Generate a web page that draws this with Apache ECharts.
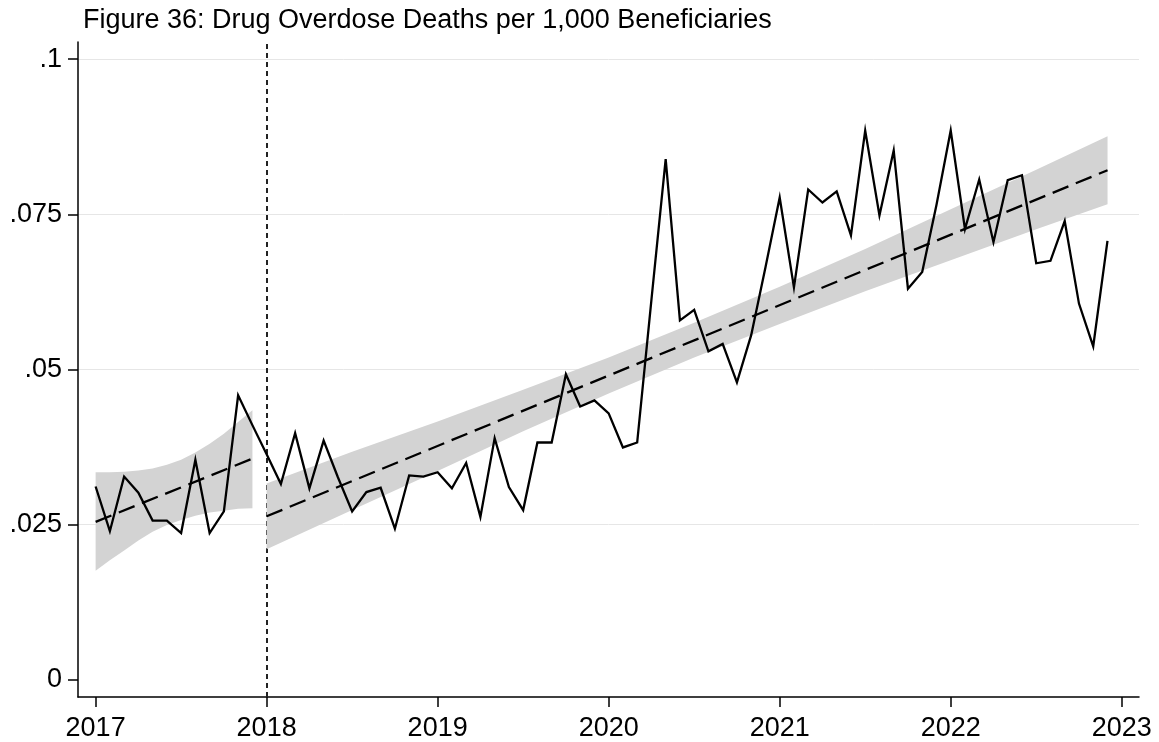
<!DOCTYPE html>
<html><head><meta charset="utf-8">
<script src="https://cdn.jsdelivr.net/npm/echarts@6/dist/echarts.min.js"></script>
<style>html,body{margin:0;padding:0;background:#fff}#c{width:1159px;height:742px}</style>
</head><body><div id="c"></div>
<script>
const chartTitle = 'Figure 36: Drug Overdose Deaths per 1,000 Beneficiaries';
const years = [2017, 2018, 2019, 2020, 2021, 2022];
const monthsPerYear = 12;
// monthly deaths per 1,000 beneficiaries, Jan 2017 .. Dec 2022
const deathsPer1000 = [
  0.0311,0.0239,0.0327,0.0301,0.0256,0.0256,0.0236,0.0354,0.0236,0.0271,0.0458,0.0410,
  0.0363,0.0315,0.0397,0.0308,0.0385,0.0326,0.0271,0.0302,0.0309,0.0243,0.0329,0.0327,
  0.0334,0.0308,0.0349,0.0262,0.0389,0.0310,0.0273,0.0382,0.0382,0.0492,0.0440,0.0450,
  0.0429,0.0374,0.0382,0.0612,0.0839,0.0579,0.0596,0.0529,0.0541,0.0479,0.0555,0.0664,
  0.0777,0.0632,0.0790,0.0769,0.0787,0.0716,0.0885,0.0748,0.0853,0.0630,0.0657,0.0765,
  0.0885,0.0726,0.0806,0.0705,0.0805,0.0813,0.0671,0.0675,0.0739,0.0606,0.0537,0.0707
];
const xTickValues = [2017, 2018, 2019, 2020, 2021, 2022, 2023];
const xTickLabels = ['2017', '2018', '2019', '2020', '2021', '2022', '2023'];
const yTickValues = [0, 0.025, 0.05, 0.075, 0.1];
const yTickLabels = ['0', '.025', '.05', '.075', '.1'];
const policyYear = 2018;

// pre-period linear fit and confidence band (monthly, Jan..Dec 2017)
const fitPreX = [2017.0, 2017.917];
const fitPreY = [0.0254, 0.0356];
const bandPreX = [2017.0, 2017.083, 2017.167, 2017.25, 2017.333, 2017.417, 2017.5, 2017.583, 2017.667, 2017.75, 2017.833, 2017.917];
const bandPreLow = [0.0175, 0.0192, 0.0208, 0.0224, 0.0238, 0.0249, 0.0257, 0.0264, 0.0269, 0.0272, 0.0275, 0.0276];
const bandPreHigh = [0.0334, 0.0334, 0.0335, 0.0337, 0.0340, 0.0346, 0.0354, 0.0366, 0.0380, 0.0396, 0.0415, 0.0434];

// post-period linear fit and confidence band
const fitPostX = [2018.0, 2022.917];
const fitPostY = [0.0263, 0.0821];
const bandPostX = [2018.0, 2018.5, 2019.0, 2019.5, 2020.0, 2020.5, 2021.0, 2021.5, 2022.0, 2022.5, 2022.917];
const bandPostLow = [0.0210, 0.0273, 0.0336, 0.0400, 0.0461, 0.0519, 0.0573, 0.0626, 0.0676, 0.0726, 0.0766];
const bandPostHigh = [0.0316, 0.0367, 0.0416, 0.0467, 0.0519, 0.0575, 0.0633, 0.0694, 0.0758, 0.0822, 0.0876];

const FONT = '"Liberation Sans", Arial, Helvetica, sans-serif';

const lineData = [];
years.forEach((y, yi) => {
  for (let m = 0; m < monthsPerYear; m++) {
    lineData.push([y + m / monthsPerYear, deathsPer1000[yi * monthsPerYear + m]]);
  }
});
const pairs = (xs, ys) => xs.map((x, i) => [x, ys[i]]);

const bandColor = '#d3d3d3';
function bandSeries(xs, lo, hi) {
  return {
    type: 'custom', z: 3, silent: true,
    data: pairs(xs, hi).concat(pairs(xs, lo)),
    encode: { x: 0, y: 1 },
    renderItem: (params, api) => {
      if (params.dataIndex !== 0) return null;
      const pts = [];
      for (let i = 0; i < xs.length; i++) pts.push(api.coord([xs[i], hi[i]]));
      for (let i = xs.length - 1; i >= 0; i--) pts.push(api.coord([xs[i], lo[i]]));
      return { type: 'polygon', shape: { points: pts }, style: { fill: bandColor, stroke: null } };
    }
  };
}

const chart = echarts.init(document.getElementById('c'), null, { renderer: 'canvas' });
chart.setOption({
  animation: false,
  backgroundColor: '#fff',
  title: {
    text: chartTitle, left: 83, top: 7, padding: 0,
    textStyle: { fontFamily: FONT, fontSize: 27, fontWeight: 'normal', color: '#000' }
  },
  grid: { left: 78, right: 20, top: 42, bottom: 42, containLabel: false },
  xAxis: {
    type: 'value', min: 2016.897, max: 2023.101,
    axisLine: { show: true, onZero: false, lineStyle: { color: '#000', width: 1.5 } },
    axisTick: { show: true, length: 10, customValues: xTickValues, lineStyle: { color: '#000', width: 1.5 } },
    axisLabel: { customValues: xTickValues, fontFamily: FONT, fontSize: 27, color: '#000', margin: 18,
      formatter: v => xTickLabels[xTickValues.indexOf(v)] },
    splitLine: { show: false }
  },
  yAxis: {
    type: 'value', min: -0.00284, max: 0.10278,
    axisLine: { show: true, onZero: false, lineStyle: { color: '#000', width: 1.5 } },
    axisTick: { show: true, length: 10, customValues: yTickValues, lineStyle: { color: '#000', width: 1.5 } },
    axisLabel: { customValues: yTickValues, fontFamily: FONT, fontSize: 27, color: '#000', margin: 16,
      formatter: v => yTickLabels[yTickValues.indexOf(v)] },
    splitLine: { show: true, lineStyle: { color: ['rgba(0,0,0,0)', '#e6e6e6', '#e6e6e6', '#e6e6e6', '#e6e6e6'], width: 1 } }
  },
  series: [
    { type: 'line', data: [], z: 1,
      markLine: { silent: true, symbol: 'none', z: 1, label: { show: false },
        lineStyle: { color: '#222', width: 2, type: [5, 4] },
        data: [{ xAxis: policyYear }] } },
    bandSeries(bandPreX, bandPreLow, bandPreHigh),
    bandSeries(bandPostX, bandPostLow, bandPostHigh),
    { type: 'line', data: lineData, symbol: 'none', z: 4,
      lineStyle: { color: '#000', width: 2.3, join: 'miter' } },
    { type: 'line', data: pairs(fitPreX, fitPreY), symbol: 'none', z: 5,
      lineStyle: { color: '#000', width: 2.3, type: [17, 8] } },
    { type: 'line', data: pairs(fitPostX, fitPostY), symbol: 'none', z: 5,
      lineStyle: { color: '#000', width: 2.3, type: [17, 8] } }
  ]
});
</script></body></html>
